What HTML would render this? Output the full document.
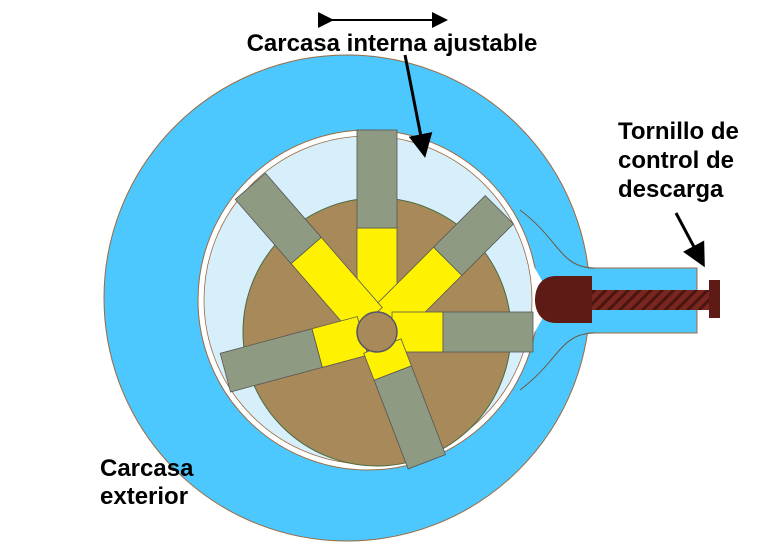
<!DOCTYPE html>
<html><head><style>
body{margin:0;background:#fff;}
svg{display:block;}
text{font-family:"Liberation Sans",sans-serif;font-weight:bold;font-size:24px;fill:#000;}
</style></head><body>
<svg width="761" height="553" viewBox="0 0 761 553">
<defs>
<pattern id="h" width="8" height="8" patternUnits="userSpaceOnUse" patternTransform="rotate(45)">
<rect width="8" height="8" fill="#7a2620"/><rect width="3" height="8" fill="#4a1410"/>
</pattern>
<marker id="a" markerWidth="8" markerHeight="8" refX="6" refY="4" orient="auto" markerUnits="strokeWidth"><path d="M0,0 L8,4 L0,8 z" fill="#000"/></marker>
</defs>
<circle cx="347" cy="298" r="243" fill="#4dc8ff" stroke="#9a6a40" stroke-width="1"/>
<rect x="586" y="268" width="111" height="65" fill="#4dc8ff"/>
<path d="M588,268 L697,268 L697,333 L588,333" fill="none" stroke="#9a6a40" stroke-width="1"/>
<path d="M520,210 C560,240 560,268 595,268" fill="none" stroke="#6a5a40" stroke-width="1"/>
<path d="M520,390 C560,360 560,333 595,333" fill="none" stroke="#6a5a40" stroke-width="1"/>
<circle cx="368" cy="300" r="170" fill="#fff" stroke="#9a6a40" stroke-width="1"/>
<path d="M530,260 Q545,285 552,300 Q545,315 530,340 Z" fill="#fff"/>
<circle cx="368" cy="300" r="164" fill="#d6effb" stroke="#9a6a40" stroke-width="0.8"/>
<circle cx="377" cy="332" r="134" fill="#a8895a" stroke="#4a6a40" stroke-width="1"/>
<g transform="translate(377,332)" stroke="#555" stroke-width="0.8">
<g transform="rotate(-90)"><rect x="15" y="-20" width="89" height="40" fill="#fff200"/><rect x="104" y="-20" width="98" height="40" fill="#8f9a83"/></g>
<g transform="rotate(-45)"><rect x="15" y="-20" width="85" height="40" fill="#fff200"/><rect x="100" y="-20" width="73" height="40" fill="#8f9a83"/></g>
<g transform="rotate(-131)"><rect x="15" y="-20" width="93" height="40" fill="#fff200"/><rect x="108" y="-20" width="85" height="40" fill="#8f9a83"/></g>
<g transform="rotate(0)"><rect x="15" y="-20" width="51" height="40" fill="#fff200"/><rect x="66" y="-20" width="90" height="40" fill="#8f9a83"/></g>
<g transform="rotate(165)"><rect x="15" y="-20" width="47" height="40" fill="#fff200"/><rect x="62" y="-20" width="95" height="40" fill="#8f9a83"/></g>
<g transform="rotate(69)"><rect x="15" y="-20" width="29" height="40" fill="#fff200"/><rect x="44" y="-20" width="95" height="40" fill="#8f9a83"/></g>
<circle r="20" fill="#a8895a" stroke="#556" stroke-width="1.5"/>
</g>
<rect x="590" y="290" width="122" height="20" fill="url(#h)"/>
<path d="M556,276 L592,276 L592,323 L556,323 C540,323 535,310 535,300 C535,289 540,276 556,276 Z" fill="#5e1a14"/>
<rect x="709" y="280" width="11" height="38" fill="#5e1a14"/>
<line x1="330" y1="20" x2="444" y2="20" stroke="#000" stroke-width="2" marker-start="url(#a)" marker-end="url(#a)"/>
<line x1="405" y1="55" x2="424" y2="152" stroke="#000" stroke-width="3" marker-end="url(#a)"/>
<line x1="676" y1="213" x2="702" y2="262" stroke="#000" stroke-width="3" marker-end="url(#a)"/>
<text x="392" y="51" text-anchor="middle">Carcasa interna ajustable</text>
<text x="618" y="139">Tornillo de</text>
<text x="618" y="168">control de</text>
<text x="618" y="197">descarga</text>
<text x="100" y="476">Carcasa</text>
<text x="100" y="504">exterior</text>
</svg>
</body></html>
